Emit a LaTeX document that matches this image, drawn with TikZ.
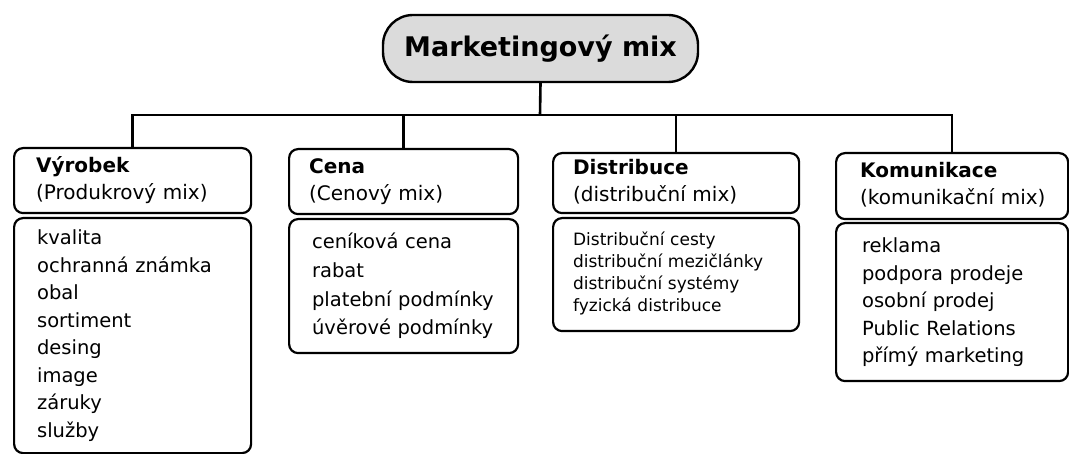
\documentclass[tikz,border=0pt]{standalone}
\usepackage{fontspec}
\setmainfont{DejaVu Sans}
\usetikzlibrary{positioning}

% radky bez zalomeni
\newcommand{\mixlines}[1]{\begin{tabular}{@{}l@{}}#1\end{tabular}}

\tikzset{
  mixbox/.style={draw, line width=2.2pt, rounded corners=9pt, align=left,
    anchor=north west, inner ysep=0pt},
  headbox/.style={mixbox, font=\fontsize{20}{27}\selectfont},
  listbox/.style={mixbox, font=\fontsize{19.5}{27.5}\selectfont},
  conn/.style={line width=2.6pt}
}

\begin{document}
\begin{tikzpicture}[x=1pt, y=-1pt]
  \useasboundingbox (0,0) rectangle (1069,454);

  % hlavni uzel
  \node[draw, line width=2.4pt, rounded corners=30pt, fill=gray!28,
    minimum width=315pt, minimum height=67pt,
    font=\fontsize{27}{30}\selectfont\bfseries] (mix) at (540.5,48.5) {Marketingový mix};

  % hlavicky jednotlivych nastroju
  \node[headbox, inner xsep=22pt, minimum width=237pt, minimum height=65pt, text width=193pt] (vyrobek) at (13,147)
    {\mixlines{\textbf{Výrobek}\\(Produkrový mix)}};
  \node[headbox, inner xsep=20pt, minimum width=229pt, minimum height=65pt, text width=189pt] (cena) at (288,148)
    {\mixlines{\textbf{Cena}\\(Cenový mix)}};
  \node[headbox, inner xsep=20pt, minimum width=246pt, minimum height=60pt, text width=206pt] (distribuce) at (552,152)
    {\mixlines{\textbf{Distribuce}\\(distribuční mix)}};
  \node[headbox, inner xsep=24pt, minimum width=232pt, minimum height=66pt, text width=184pt] (komunikace) at (835,152)
    {\mixlines{\textbf{Komunikace}\\(komunikační mix)}};

  % seznamy
  \node[listbox, inner xsep=23pt, minimum width=237pt, minimum height=235pt, text width=191pt] (vyrobekL) at (13,217)
    {\mixlines{kvalita\\ochranná známka\\obal\\sortiment\\desing\\image\\záruky\\služby}};
  \node[listbox, inner xsep=23pt, minimum width=229pt, minimum height=134pt, text width=183pt,
    font=\fontsize{19.5}{28.7}\selectfont] (cenaL) at (288,218)
    {\mixlines{ceníková cena\\rabat\\platební podmínky\\úvěrové podmínky}};
  \node[listbox, inner xsep=20pt, minimum width=246pt, minimum height=113pt, text width=206pt,
    font=\fontsize{17}{22}\selectfont] (distribuceL) at (552,217)
    {\mixlines{Distribuční cesty\\distribuční mezičlánky\\distribuční systémy\\fyzická distribuce}};
  \node[listbox, inner xsep=26pt, minimum width=232pt, minimum height=158pt, text width=180pt] (komunikaceL) at (835,222)
    {\mixlines{reklama\\podpora prodeje\\osobní prodej\\Public Relations\\přímý marketing}};

  % spojnice
  \coordinate (bus) at (540,115);
  \draw[conn] (mix.south) -- (bus);
  \draw[conn] (vyrobek.north) |- (bus) -| (komunikace.north);
  \draw[conn] (cena.north) -- (cena.north |- bus);
  \draw[conn] (distribuce.north) -- (distribuce.north |- bus);
\end{tikzpicture}
\end{document}
